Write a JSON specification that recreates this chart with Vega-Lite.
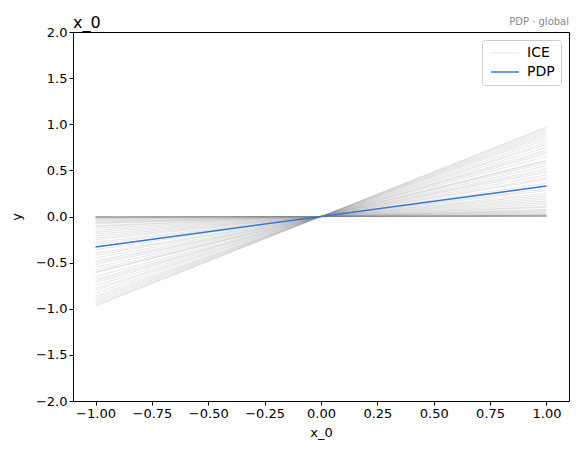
{
  "$schema": "https://vega.github.io/schema/vega-lite/v6.json",
  "width": 496,
  "height": 369,
  "autosize": {"type": "none"},
  "padding": {"left": 73, "top": 32, "right": 9, "bottom": 53},
  "background": "white",
  "title": {"text": "x_0", "anchor": "start", "frame": "group", "font": "DejaVu Sans", "fontSize": 16, "fontWeight": "normal", "color": "black", "offset": -14},
  "config": {
    "font": "DejaVu Sans",
    "view": {"stroke": "black", "strokeWidth": 1},
    "axis": {"grid": false, "domainColor": "black", "tickColor": "black", "labelColor": "black", "titleColor": "black", "labelFont": "DejaVu Sans", "titleFont": "DejaVu Sans", "labelFontSize": 13, "titleFontSize": 13, "titleFontWeight": "normal", "tickSize": 4}
  },
  "datasets": {
    "ice": [
      {"id":1,"x":-1,"y":0},{"id":1,"x":1,"y":0},
      {"id":2,"x":-1,"y":0},{"id":2,"x":1,"y":0},
      {"id":3,"x":-1,"y":-0.002},{"id":3,"x":1,"y":0.002},
      {"id":4,"x":-1,"y":-0.004},{"id":4,"x":1,"y":0.004},
      {"id":5,"x":-1,"y":-0.006},{"id":5,"x":1,"y":0.006},
      {"id":6,"x":-1,"y":-0.008},{"id":6,"x":1,"y":0.008},
      {"id":7,"x":-1,"y":-0.01},{"id":7,"x":1,"y":0.01},
      {"id":8,"x":-1,"y":-0.012},{"id":8,"x":1,"y":0.012},
      {"id":9,"x":-1,"y":-0.014},{"id":9,"x":1,"y":0.014},
      {"id":10,"x":-1,"y":-0.016},{"id":10,"x":1,"y":0.016},
      {"id":11,"x":-1,"y":-0.02},{"id":11,"x":1,"y":0.02},
      {"id":12,"x":-1,"y":-0.03},{"id":12,"x":1,"y":0.03},
      {"id":13,"x":-1,"y":-0.04},{"id":13,"x":1,"y":0.04},
      {"id":14,"x":-1,"y":-0.05},{"id":14,"x":1,"y":0.05},
      {"id":15,"x":-1,"y":-0.06},{"id":15,"x":1,"y":0.06},
      {"id":16,"x":-1,"y":-0.07},{"id":16,"x":1,"y":0.07},
      {"id":17,"x":-1,"y":-0.08},{"id":17,"x":1,"y":0.08},
      {"id":18,"x":-1,"y":-0.1},{"id":18,"x":1,"y":0.1},
      {"id":19,"x":-1,"y":-0.11},{"id":19,"x":1,"y":0.11},
      {"id":20,"x":-1,"y":-0.13},{"id":20,"x":1,"y":0.13},
      {"id":21,"x":-1,"y":-0.15},{"id":21,"x":1,"y":0.15},
      {"id":22,"x":-1,"y":-0.17},{"id":22,"x":1,"y":0.17},
      {"id":23,"x":-1,"y":-0.19},{"id":23,"x":1,"y":0.19},
      {"id":24,"x":-1,"y":-0.21},{"id":24,"x":1,"y":0.21},
      {"id":25,"x":-1,"y":-0.23},{"id":25,"x":1,"y":0.23},
      {"id":26,"x":-1,"y":-0.25},{"id":26,"x":1,"y":0.25},
      {"id":27,"x":-1,"y":-0.28},{"id":27,"x":1,"y":0.28},
      {"id":28,"x":-1,"y":-0.3},{"id":28,"x":1,"y":0.3},
      {"id":29,"x":-1,"y":-0.33},{"id":29,"x":1,"y":0.33},
      {"id":30,"x":-1,"y":-0.36},{"id":30,"x":1,"y":0.36},
      {"id":31,"x":-1,"y":-0.4},{"id":31,"x":1,"y":0.4},
      {"id":32,"x":-1,"y":-0.42},{"id":32,"x":1,"y":0.42},
      {"id":33,"x":-1,"y":-0.45},{"id":33,"x":1,"y":0.45},
      {"id":34,"x":-1,"y":-0.48},{"id":34,"x":1,"y":0.48},
      {"id":35,"x":-1,"y":-0.5},{"id":35,"x":1,"y":0.5},
      {"id":36,"x":-1,"y":-0.52},{"id":36,"x":1,"y":0.52},
      {"id":37,"x":-1,"y":-0.55},{"id":37,"x":1,"y":0.55},
      {"id":38,"x":-1,"y":-0.58},{"id":38,"x":1,"y":0.58},
      {"id":39,"x":-1,"y":-0.6},{"id":39,"x":1,"y":0.6},
      {"id":40,"x":-1,"y":-0.61},{"id":40,"x":1,"y":0.61},
      {"id":41,"x":-1,"y":-0.65},{"id":41,"x":1,"y":0.65},
      {"id":42,"x":-1,"y":-0.68},{"id":42,"x":1,"y":0.68},
      {"id":43,"x":-1,"y":-0.7},{"id":43,"x":1,"y":0.7},
      {"id":44,"x":-1,"y":-0.72},{"id":44,"x":1,"y":0.72},
      {"id":45,"x":-1,"y":-0.75},{"id":45,"x":1,"y":0.75},
      {"id":46,"x":-1,"y":-0.78},{"id":46,"x":1,"y":0.78},
      {"id":47,"x":-1,"y":-0.8},{"id":47,"x":1,"y":0.8},
      {"id":48,"x":-1,"y":-0.83},{"id":48,"x":1,"y":0.83},
      {"id":49,"x":-1,"y":-0.86},{"id":49,"x":1,"y":0.86},
      {"id":50,"x":-1,"y":-0.88},{"id":50,"x":1,"y":0.88},
      {"id":51,"x":-1,"y":-0.9},{"id":51,"x":1,"y":0.9},
      {"id":52,"x":-1,"y":-0.92},{"id":52,"x":1,"y":0.92},
      {"id":53,"x":-1,"y":-0.94},{"id":53,"x":1,"y":0.94},
      {"id":54,"x":-1,"y":-0.96},{"id":54,"x":1,"y":0.96},
      {"id":55,"x":-1,"y":-0.97},{"id":55,"x":1,"y":0.97}
    ],
    "pdp": [
      {"x":-1,"y":-0.33},{"x":1,"y":0.33}
    ],
    "note": [{"label": "PDP · global", "x": 1.1, "y": 2.0}]
  },
  "encoding": {
    "x": {"field": "x", "type": "quantitative", "scale": {"domain": [-1.1, 1.1], "nice": false, "zero": false}, "axis": {"values": [-1, -0.75, -0.5, -0.25, 0, 0.25, 0.5, 0.75, 1], "format": ".2f", "title": "x_0", "titlePadding": 6}},
    "y": {"field": "y", "type": "quantitative", "scale": {"domain": [-2, 2], "nice": false, "zero": false}, "axis": {"values": [-2, -1.5, -1, -0.5, 0, 0.5, 1, 1.5, 2], "format": ".1f", "title": "y", "titlePadding": 12}}
  },
  "layer": [
    {
      "data": {"name": "ice"},
      "mark": {"type": "line", "strokeWidth": 1, "strokeOpacity": 0.2},
      "encoding": {
        "detail": {"field": "id", "type": "nominal"},
        "color": {"datum": "ICE", "type": "nominal", "scale": {"domain": ["ICE", "PDP"], "range": ["#808080", "#2f78d6"]},
          "legend": {"title": null, "orient": "top-right", "offset": 8, "symbolType": "M-1,0H1", "symbolSize": 784, "symbolStrokeWidth": 1.5, "symbolOpacity": 1, "symbolOffset": 10, "labelFontSize": 14, "labelFont": "DejaVu Sans", "labelColor": "black", "labelOffset": 15, "strokeColor": "#cccccc", "cornerRadius": 3, "padding": 6, "fillColor": "white", "rowPadding": 5,
            "encode": {"symbols": {"update": {"opacity": {"value": 1}, "strokeOpacity": {"signal": "datum.value === 'ICE' ? 0.2 : 1"}, "strokeWidth": {"signal": "datum.value === 'ICE' ? 1 : 1.5"}}}}}}
      }
    },
    {
      "data": {"name": "pdp"},
      "mark": {"type": "line", "strokeWidth": 1.6},
      "encoding": {
        "color": {"datum": "PDP", "type": "nominal"}
      }
    },
    {
      "data": {"name": "note"},
      "mark": {"type": "text", "align": "right", "baseline": "bottom", "dy": -5, "fontSize": 10, "color": "#888888", "font": "DejaVu Sans"},
      "encoding": {"text": {"field": "label"}}
    }
  ]
}
